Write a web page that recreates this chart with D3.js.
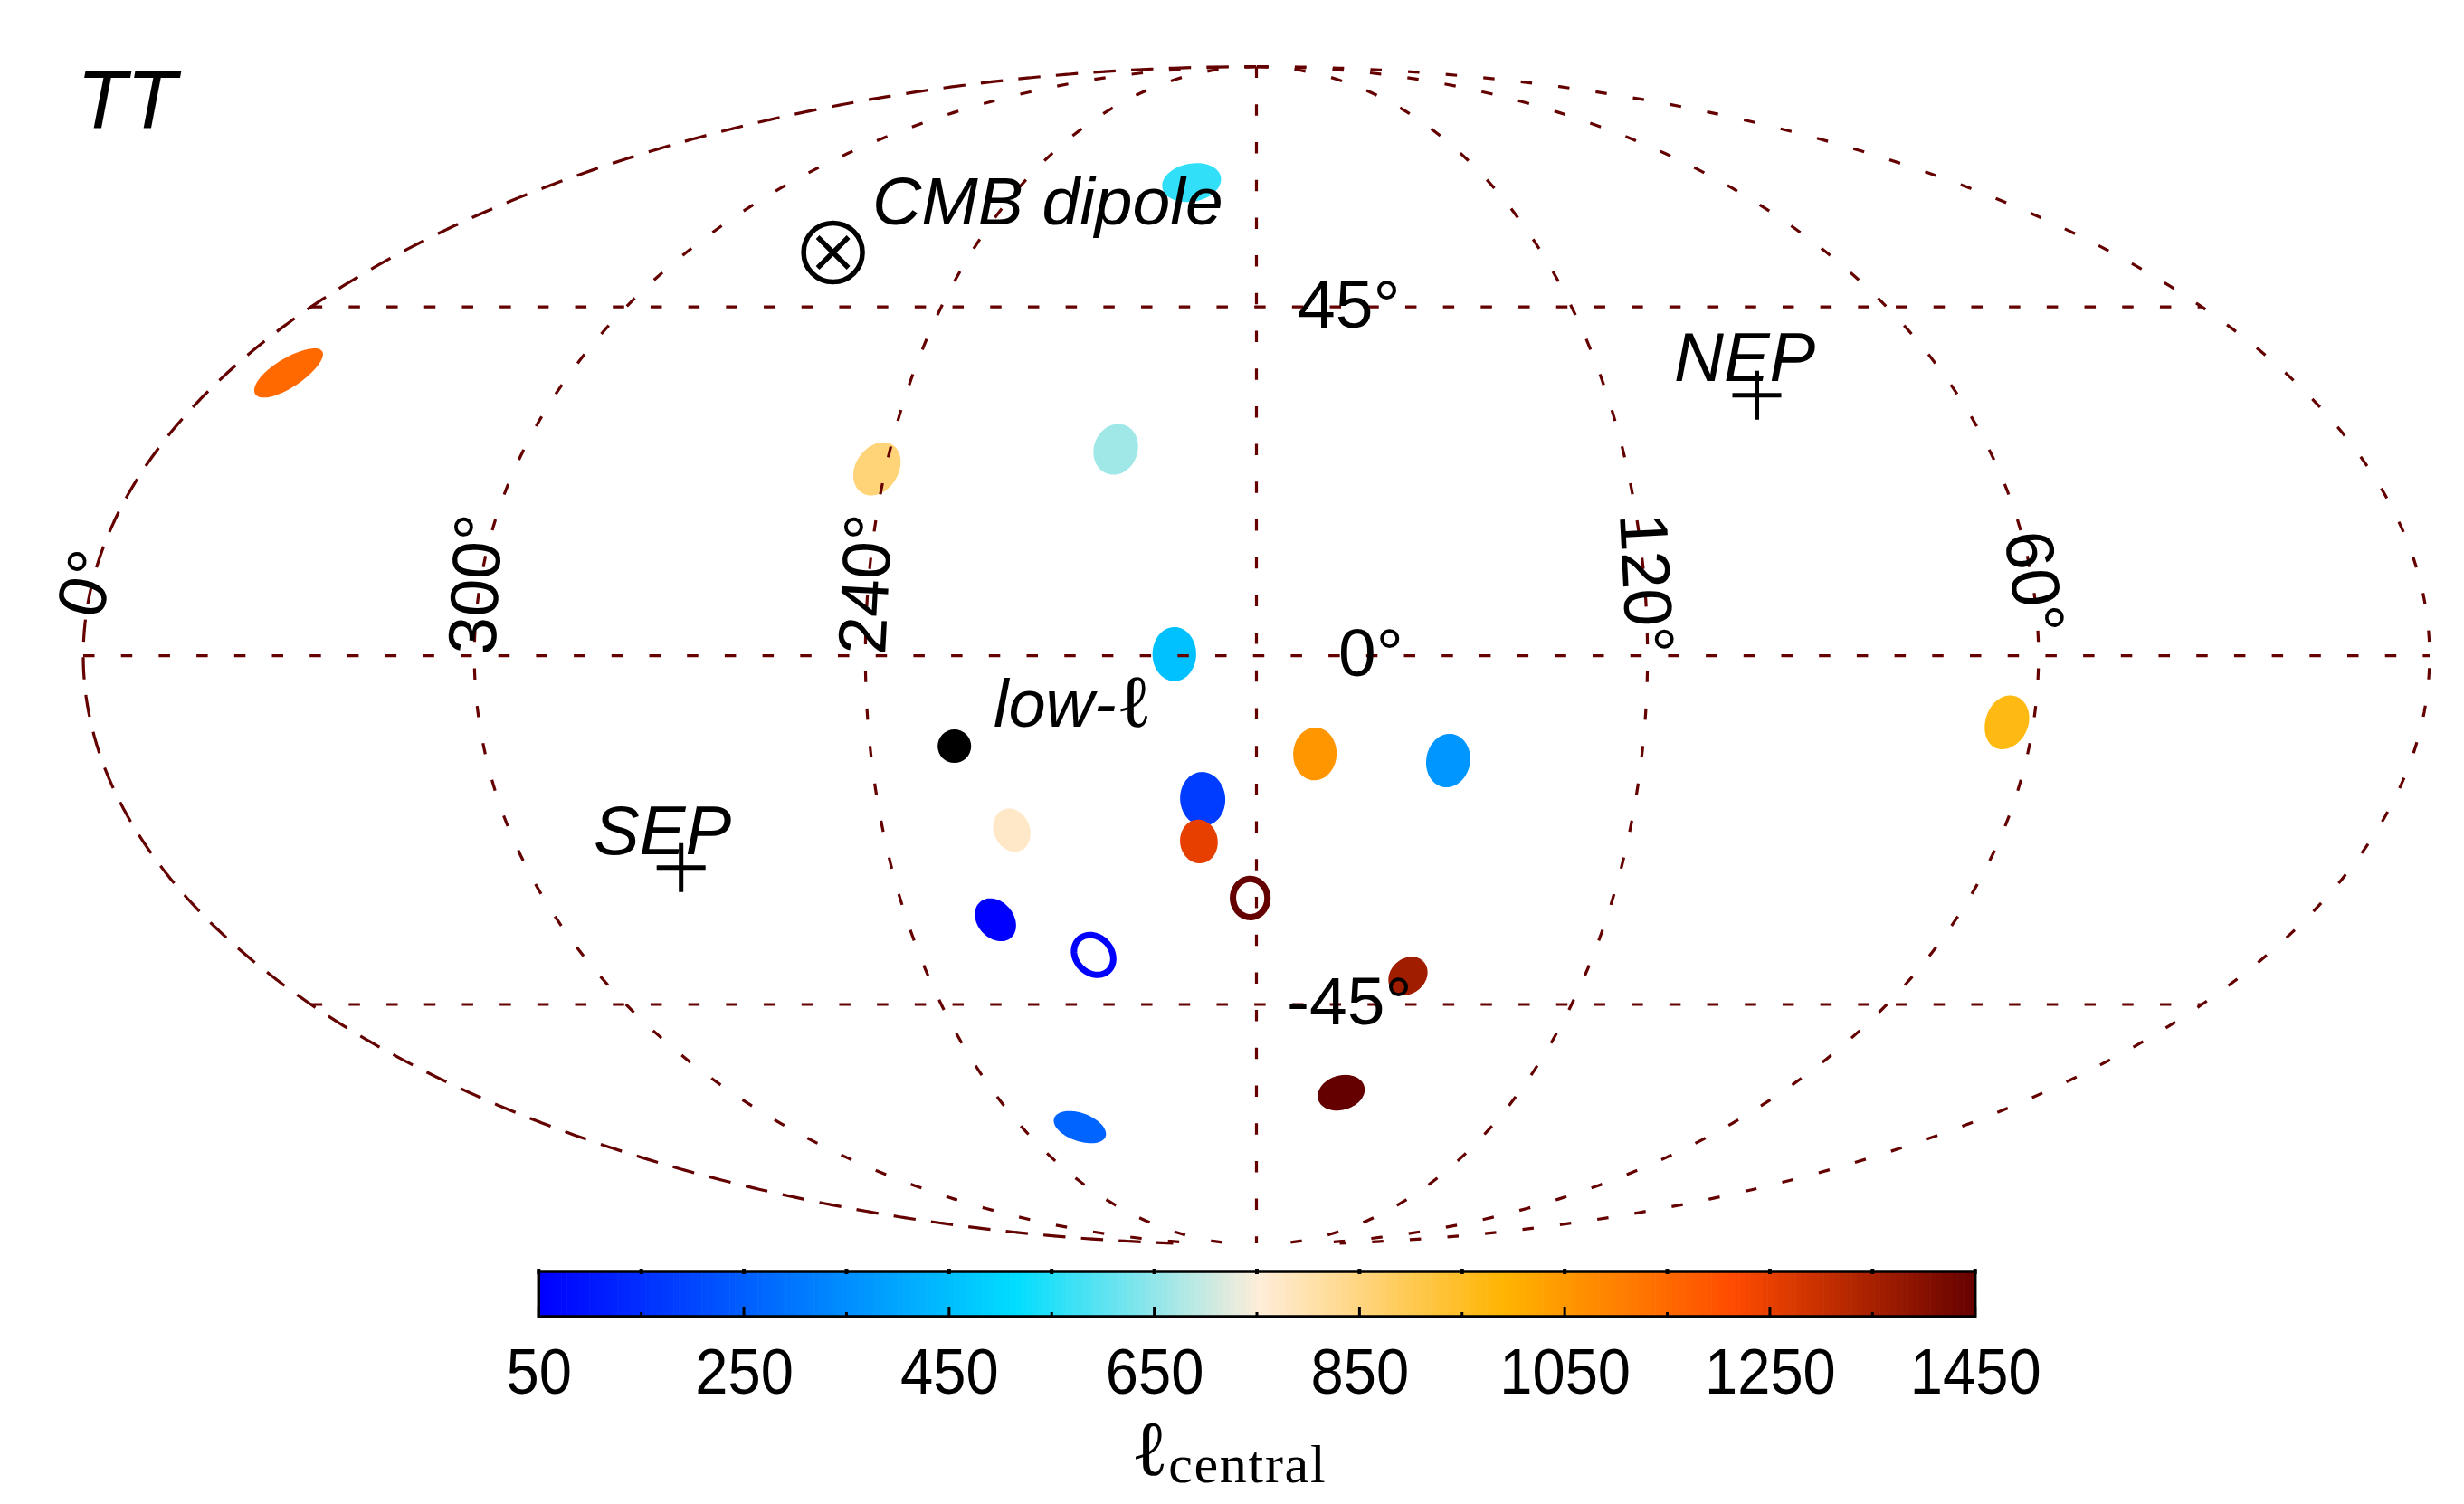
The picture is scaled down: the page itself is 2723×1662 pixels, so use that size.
<!DOCTYPE html>
<html>
<head>
<meta charset="utf-8">
<title>TT</title>
<script src="https://cdn.jsdelivr.net/npm/d3@7"></script>
<style>
body { margin: 0; background: #fff; }
text { font-family: "Liberation Sans", Arial, sans-serif; fill: #000; }
</style>
</head>
<body>
<svg id="chart" width="2723" height="1662"></svg>
<script>
// Patches: galactic longitude, latitude, radius (degrees), central multipole
var patchLon = [192.6, 170.9, 150.1, 188.5, 189.3, 219.3, 181.05, 224.8, 209, 152.3, 160.6, 225.2, 349.4, 241.4, 203.05, 196.7, 64.1];
var patchLat = [0.2, -12.2, -13.04, -17.86, -23.26, -21.81, -30.58, -33.45, -38.17, -41.04, -58.12, -63.69, 35.95, 23.4, 25.91, 64, -8.27];
var patchRadius = [3.35, 3.3, 3.35, 3.4, 2.8, 2.75, 2.5, 2.85, 2.7, 2.65, 2.8, 2.7, 3.3, 3.4, 3.27, 3.28, 3.35];
var patchEll = [453, 1052, 363, 175, 1250, 770, 1450, 50, 50, 1358, 1450, 259, 1148, 856, 661, 558, 967];
var ringPatches = [6, 8]; // indices of the two patches drawn as outlines

var lowEll = [226.9, -11.23];
var dipole = [269.1, 52.9];
var nep = [94.4, 32.96];
var sep = [274.6, -26.6];

var meridians = [0, 60, 120, 180, 240, 300, 360];
var parallels = [-45, 0, 45];

var colorStopValues = [50, 512, 750, 988, 1212, 1450];
var colorStops = ['#0000ff', '#00ddff', '#ffedd9', '#ffb400', '#ff4b00', '#640000'];
var barTicks = d3.range(50, 1451, 100);
var barLabels = [50, 250, 450, 650, 850, 1050, 1250, 1450];

var gridColor = '#640000';
var gridDash = '12.5 29.2';

// Mollweide written for d3.geoProjection, unit half width
var mapAspect = 651 / 1296.5;

function mollweideRaw(lambda, phi) {
    var theta = phi;
    var target = Math.PI * Math.sin(phi);
    if (Math.abs(phi) < Math.PI / 2 - 1e-7) {
        for (var i = 0; i < 30; i++) {
            var delta = (2 * theta + Math.sin(2 * theta) - target) / (2 + 2 * Math.cos(2 * theta));
            theta -= delta;
            if (Math.abs(delta) < 1e-9) break;
        }
    }
    return [lambda / Math.PI * Math.cos(theta), Math.sin(theta) * mapAspect];
}

var projection = d3.geoProjection(mollweideRaw)
    .rotate([-180, 0])
    .reflectX(true)
    .scale(1296.5)
    .translate([1388.5, 724.6])
    .precision(0.3);
var geoPath = d3.geoPath(projection);

var colorScale = d3.scaleLinear().domain(colorStopValues).range(colorStops);
var barScale = d3.scaleLinear().domain([50, 1450]).range([595.3, 2182.7]);

var svg = d3.select('#chart');


/* Patches */
var patchData = patchEll.map(function(ell, i) {
    return {
        ell: ell,
        ring: ringPatches.indexOf(i) >= 0,
        circle: d3.geoCircle().center([patchLon[i], patchLat[i]]).radius(patchRadius[i]).precision(4)()
    };
});
patchData = d3.sort(patchData, function(d) { return d.ell; });

svg.append('g').selectAll('path')
    .data(patchData)
    .join('path')
    .attr('d', function(d) { return geoPath(d.circle); })
    .style('fill', function(d) { return d.ring ? 'none' : colorScale(d.ell); })
    .style('stroke', function(d) { return d.ring ? colorScale(d.ell) : 'none'; })
    .style('stroke-width', 7);


/* Graticule */
function edge(lon) {
    // keep the two boundary meridians just inside the antimeridian cut
    return Math.min(Math.max(lon, 0.001), 359.999);
}

function meridianLine(lon) {
    return { type: 'LineString', coordinates: d3.range(89.999, -90, -1).map(function(lat) {
        return [edge(lon), lat];
    }) };
}

function parallelLine(lat) {
    return { type: 'LineString', coordinates: d3.range(359.999, 0, -2).concat([0.001]).map(function(lon) {
        return [lon, lat];
    }) };
}

var grid = meridians.map(meridianLine).concat(parallels.map(parallelLine));
svg.append('g').selectAll('path')
    .data(grid)
    .join('path')
    .attr('d', geoPath)
    .style('fill', 'none')
    .style('stroke', gridColor)
    .style('stroke-width', 3.2)
    .style('stroke-dasharray', gridDash);

// the left boundary is drawn twice in the original, which lengthens its dashes
svg.append('path')
    .datum(meridianLine(360))
    .attr('d', geoPath)
    .style('fill', 'none')
    .style('stroke', gridColor)
    .style('stroke-width', 3.2)
    .style('stroke-dasharray', gridDash)
    .style('stroke-dashoffset', 12);


/* Markers */
var lowEllPos = projection(lowEll);
svg.append('circle')
    .attr('cx', lowEllPos[0])
    .attr('cy', lowEllPos[1])
    .attr('r', 18.5)
    .style('fill', '#000');

var dipolePos = projection(dipole);
var dipoleMark = svg.append('g')
    .attr('transform', 'translate(' + dipolePos[0] + ',' + dipolePos[1] + ')')
    .style('fill', 'none')
    .style('stroke', '#000')
    .style('stroke-width', 5.5);
dipoleMark.append('circle').attr('r', 32.5);
dipoleMark.append('path').attr('d', 'M-17,-17L17,17M-17,17L17,-17');

svg.append('g').selectAll('path')
    .data([nep, sep])
    .join('path')
    .attr('transform', function(d) { return 'translate(' + projection(d) + ')'; })
    .attr('d', 'M-27,0H27M0,-27V27')
    .style('stroke', '#000')
    .style('stroke-width', 5);


/* Labels */
function addLabel(str, x, y, size, italic, angle, anchor) {
    return svg.append('text')
        .attr('transform', 'translate(' + x + ',' + y + ') rotate(' + (angle || 0) + ')')
        .style('font-size', size + 'px')
        .style('font-style', italic ? 'italic' : 'normal')
        .style('text-anchor', anchor || 'start')
        .text(str);
}

addLabel('TT', 85, 142, 90, true);
addLabel('CMB dipole', 964, 248, 75, true);
addLabel('NEP', 1850, 421, 76, true);
addLabel('SEP', 656, 944, 76, true);

var lowLabel = addLabel('low-', 1098, 803, 74, true);
lowLabel.append('tspan')
    .style('font-family', '"DejaVu Serif", serif')
    .style('font-style', 'normal')
    .style('font-size', '82px')
    .text('\u2113');

addLabel('45\u00b0', 1434, 362, 75);
addLabel('0\u00b0', 1479, 747, 75);
addLabel('-45\u00b0', 1422, 1132, 75);

addLabel('0\u00b0', 111, 686, 75, false, -75);
addLabel('300\u00b0', 551, 647, 75, false, -87, 'middle');
addLabel('240\u00b0', 982, 647, 75, false, -87, 'middle');
addLabel('120\u00b0', 1794, 646, 75, false, 87, 'middle');
addLabel('60\u00b0', 2223, 647, 75, false, 82, 'middle');


/* Colour bar */
var barTop = 1405;
var barBottom = 1455;
var barSteps = d3.range(50, 1450, 1400 / 256);
var bar = svg.append('g');

bar.selectAll('rect')
    .data(barSteps)
    .join('rect')
    .attr('x', function(d) { return barScale(d); })
    .attr('y', barTop)
    .attr('width', barScale(50 + 1400 / 256) - barScale(50) + 0.6)
    .attr('height', barBottom - barTop)
    .style('fill', function(d) { return colorScale(d); });

bar.append('rect')
    .attr('x', barScale(50))
    .attr('y', barTop)
    .attr('width', barScale(1450) - barScale(50))
    .attr('height', barBottom - barTop)
    .style('fill', 'none')
    .style('stroke', '#000')
    .style('stroke-width', 3.5);

bar.selectAll('line.bottom')
    .data(barTicks)
    .join('line')
    .attr('class', 'bottom')
    .attr('x1', function(d) { return barScale(d); })
    .attr('x2', function(d) { return barScale(d); })
    .attr('y1', barBottom)
    .attr('y2', function(d) { return barBottom - (barLabels.indexOf(d) >= 0 ? 11 : 5); })
    .style('stroke', '#000')
    .style('stroke-width', 3);

bar.selectAll('line.top')
    .data(barTicks)
    .join('line')
    .attr('class', 'top')
    .attr('x1', function(d) { return barScale(d); })
    .attr('x2', function(d) { return barScale(d); })
    .attr('y1', barTop - 3)
    .attr('y2', barTop + 3)
    .style('stroke', '#000')
    .style('stroke-width', 4);

var barAxis = d3.axisBottom(barScale)
    .tickValues(barLabels)
    .tickFormat(d3.format('d'))
    .tickSize(0)
    .tickPadding(0);

svg.append('g')
    .attr('transform', 'translate(0,1470)')
    .call(barAxis)
    .call(function(g) { g.select('.domain').remove(); })
    .selectAll('text')
    .attr('y', 70)
    .attr('dy', 0)
    .attr('transform', 'scale(0.93,1)')
    .style('font-family', '"Liberation Sans", Arial, sans-serif')
    .style('font-size', '70px')
    .style('fill', '#000');

// one text element, the subscript sits in a tspan
var ellName = svg.append('text')
    .attr('x', 1250)
    .attr('y', 1630)
    .style('font-family', '"DejaVu Serif", serif')
    .style('font-size', '86px')
    .text('\u2113');
ellName.append('tspan')
    .attr('dy', 8)
    .style('font-family', '"Liberation Serif", serif')
    .style('font-size', '60px')
    .style('letter-spacing', '1.7px')
    .text('central');
</script>
</body>
</html>
